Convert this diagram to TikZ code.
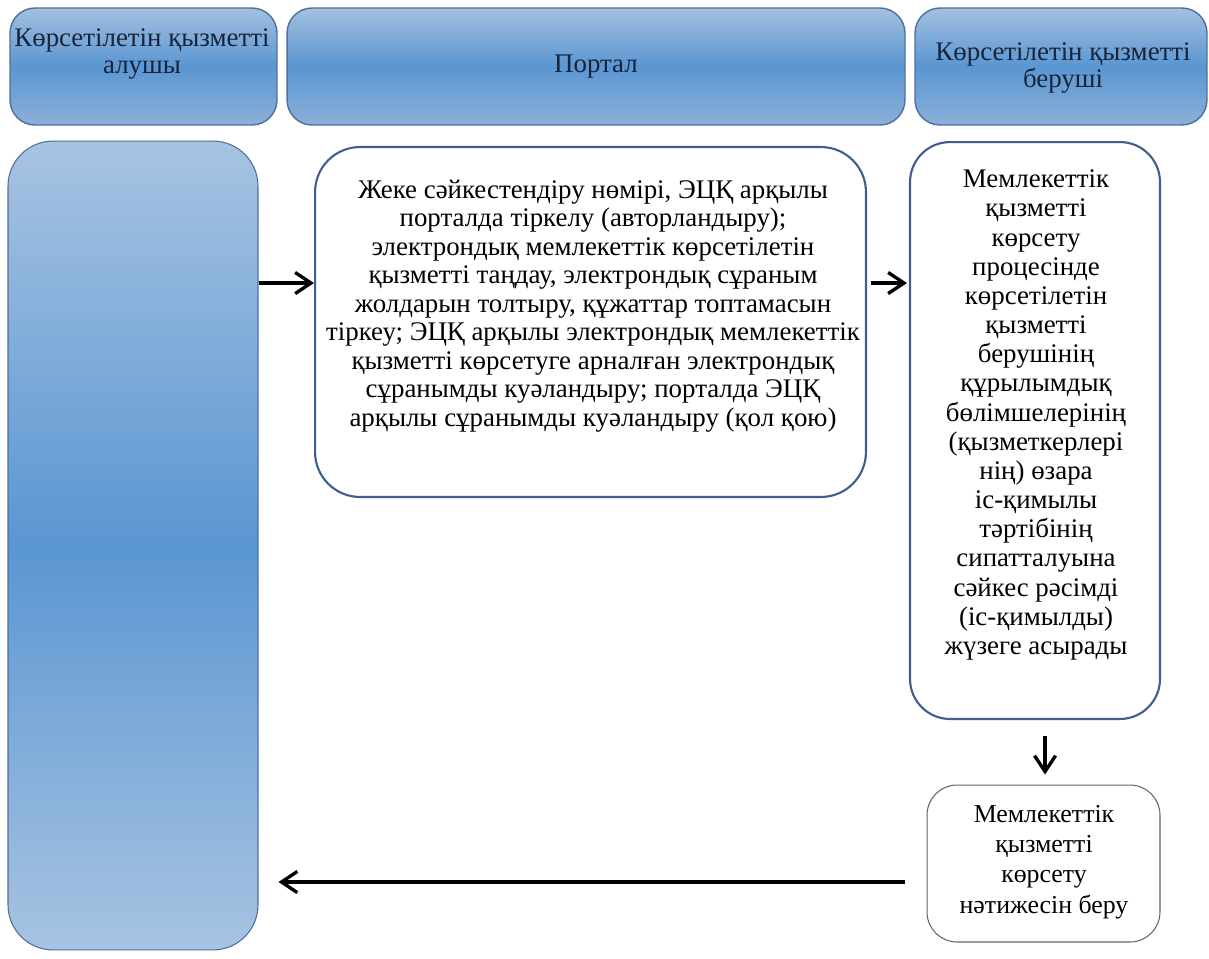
\documentclass[tikz,border=0pt]{standalone}
\usepackage{fontspec}
\newfontfamily\kzfont{Liberation Serif}
\usepackage{xcolor}
\usepackage{tikz}
\usetikzlibrary{arrows.meta}

\definecolor{hdtop}{HTML}{A3C0E0}
\definecolor{hdmid}{HTML}{5A96D2}
\definecolor{hdbot}{HTML}{8CB0D8}
\definecolor{hdline}{HTML}{4C6F9C}
\definecolor{boxline}{HTML}{3F5F8E}
\definecolor{hdtext}{HTML}{17243A}

\tikzset{
  header/.style={draw=hdline, line width=0.8pt, rounded corners=0.5cm,
    top color=hdtop, bottom color=hdbot, middle color=hdmid},
  lane/.style={draw=hdline, line width=0.6pt, rounded corners=0.9cm,
    top color=hdtop!95!white, bottom color=hdtop!95!white, middle color=hdmid},
  stepbox/.style={draw=boxline, line width=1.2pt, fill=white},
  txt/.style={align=center, font=\kzfont\fontsize{15.3}{16.3}\selectfont, text=black},
  arr/.style={line width=1.9pt, -{Straight Barb[length=9pt,width=12pt]}}
}

\begin{document}
\begin{tikzpicture}[x=0.02cm, y=-0.02cm]
\useasboundingbox (0,0) rectangle (1209,958);

% Тақырыптар
\node[header, minimum width=5.34cm, minimum height=2.34cm] (h1) at (143.5,66.5) {};
\node[header, minimum width=12.36cm, minimum height=2.34cm] (h2) at (596,66.5) {};
\node[header, minimum width=5.84cm, minimum height=2.34cm] (h3) at (1061,66.5) {};
\node[txt, text=hdtext, font=\kzfont\fontsize{15.3}{15.3}\selectfont] at (142,54) {Көрсетілетін қызметті\\алушы};
\node[txt, text=hdtext] at (596,67) {Портал};
\node[txt, text=hdtext, font=\kzfont\fontsize{15.3}{15.3}\selectfont] at (1063,68) {Көрсетілетін қызметті\\беруші};

% Алушы бағаны
\node[lane, minimum width=5cm, minimum height=16.18cm] (alushy) at (133,545.5) {};

% Портал қадамы
\node[stepbox, rounded corners=0.9cm, minimum width=11.02cm, minimum height=7cm] (portal) at (590.5,322) {};
\node[txt, font=\kzfont\fontsize{15.3}{16.2}\selectfont] at (593,306) {Жеке сәйкестендіру нөмірі, ЭЦҚ арқылы\\
порталда тіркелу (авторландыру);\\
электрондық мемлекеттік көрсетілетін\\
қызметті таңдау, электрондық сұраным\\
жолдарын толтыру, құжаттар топтамасын\\
тіркеу; ЭЦҚ арқылы электрондық мемлекеттік\\
қызметті көрсетуге арналған электрондық\\
сұранымды куәландыру; порталда ЭЦҚ\\
арқылы сұранымды куәландыру (қол қою)};

% Беруші қадамы
\node[stepbox, rounded corners=0.8cm, minimum width=5cm, minimum height=11.54cm] (beru) at (1035,430.5) {};
\node[txt, font=\kzfont\fontsize{15.3}{16.6}\selectfont] at (1036,415) {Мемлекеттік\\қызметті\\көрсету\\процесінде\\көрсетілетін\\қызметті\\берушінің\\құрылымдық\\бөлімшелерінің\\(қызметкерлері\\нің) өзара\\іс-қимылы\\тәртібінің\\сипатталуына\\сәйкес рәсімді\\(іс-қимылды)\\жүзеге асырады};

% Нәтиже
\node[draw=black!60, line width=0.6pt, fill=white, rounded corners=0.6cm,
  minimum width=4.66cm, minimum height=3.14cm] (natizhe) at (1043.5,863.5) {};
\node[txt, font=\kzfont\fontsize{14.7}{17.3}\selectfont] at (1044,862) {Мемлекеттік\\қызметті\\көрсету\\нәтижесін беру};

% Бағыттар
\draw[arr] (alushy.east |- 0,283) -- (portal.west |- 0,283);
\draw[arr] ([xshift=0.08cm]portal.east |- 0,283) -- ([xshift=-0.04cm]beru.west |- 0,283);
\draw[arr, shorten <=0.32cm, shorten >=0.2cm] (1045,0 |- beru.south) -- (1045,0 |- natizhe.north);
\draw[arr, shorten <=0.44cm, shorten >=0.4cm] (natizhe.west |- 0,882) -- (alushy.east |- 0,882);
\end{tikzpicture}
\end{document}
